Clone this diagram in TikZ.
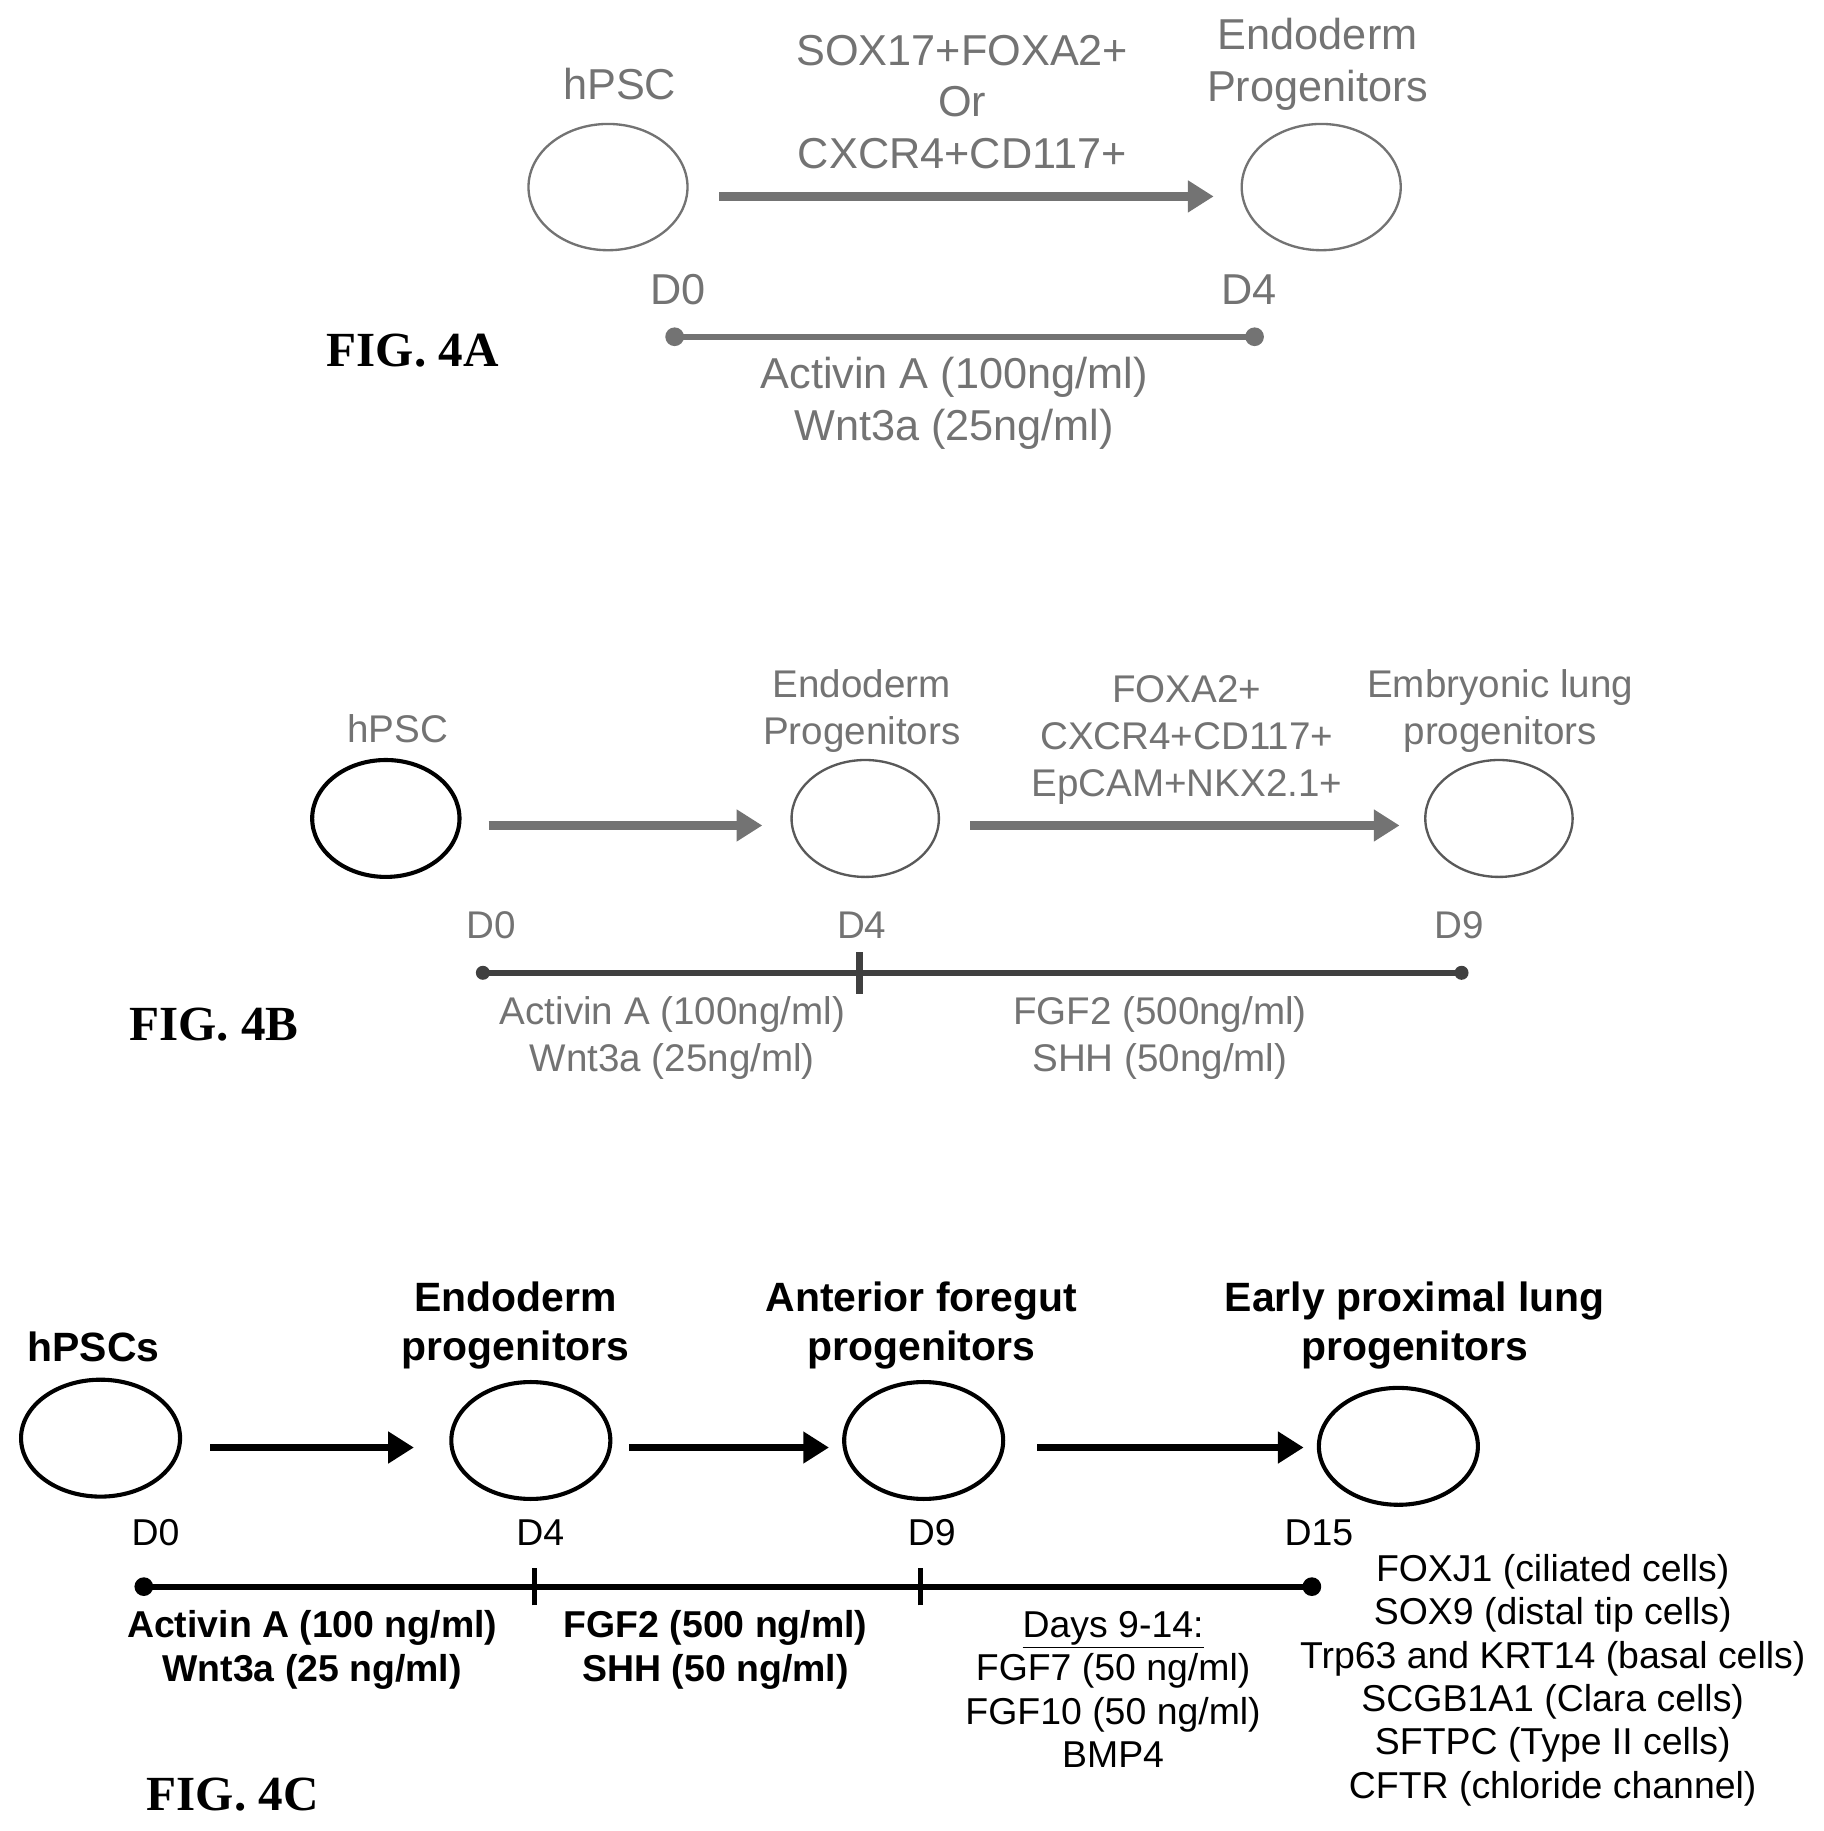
\documentclass[tikz,border=0pt]{standalone}
\usepackage{fontspec}
\setmainfont{Liberation Sans}
\newfontfamily\figfont{Liberation Serif}
\usetikzlibrary{arrows.meta,shapes.geometric}
\begin{document}
\begin{tikzpicture}[x=1pt,y=-1pt]
	\tikzset{cell/.style={draw, ellipse, minimum width=136pt, minimum height=108pt, line width=2pt},
		step arrow/.style={line width=8pt, -{Triangle[length=22pt,width=26pt]}},
		time line/.style={line width=5pt},
		lbl/.style={align=center, font=\fontsize{37}{44}\selectfont},
		lbl b/.style={align=center, font=\fontsize{33}{40}\selectfont},
		lbl c/.style={align=center, font=\bfseries\fontsize{35}{42}\selectfont},
		lbl d/.style={align=center, font=\fontsize{32}{37}\selectfont},
		fig/.style={font=\figfont\bfseries\fontsize{42}{44}\selectfont}}
	\useasboundingbox (0,0) rectangle (1560,1566);

	% FIG. 4A
	\begin{scope}[black!55]
	\node[cell, draw=black!55] (a0) at (520,160) {};
	\node[cell, draw=black!55] (a1) at (1130,160) {};
	\node[lbl] (a0l) at (530,72) {hPSC};
	\node[lbl] (a1l) at (1127,55) {Endoderm\\Progenitors};
	\node[lbl] (amk) at (823,87) {SOX17+FOXA2+\\Or\\CXCR4+CD117+};
	\coordinate (aa0) at (615,168);
	\coordinate (aa1) at (1038,168);
	\draw[step arrow] (aa0) -- (aa1);
	\node[lbl] (ad0) at (580,248) {D0};
	\node[lbl] (ad4) at (1068,248) {D4};
	\coordinate (at0) at (577,288);
	\coordinate (at1) at (1073,288);
	\draw[time line] (at0) -- (at1);
	\fill (at0) circle (8pt) (at1) circle (8pt);
	\node[lbl] (adr) at (816,345) {Activin A (100ng/ml)\\Wnt3a (25ng/ml)};
	\end{scope}
	\node[fig] (fa) at (353,300) {FIG. 4A};

	% FIG. 4B
	\node[cell, minimum width=126pt, minimum height=100pt, line width=3.5pt] (b0) at (330,700) {};
	\begin{scope}[black!55]
	\node[cell, draw=black!65, minimum width=126pt, minimum height=100pt] (b1) at (740,700) {};
	\node[cell, draw=black!65, minimum width=126pt, minimum height=100pt] (b2) at (1282,700) {};
	\node[lbl b] (b0l) at (340,623) {hPSC};
	\node[lbl b] (b1l) at (737,608) {Endoderm\\Progenitors};
	\node[lbl b] (b2l) at (1283,608) {Embryonic lung\\progenitors};
	\node[lbl b] (bmk) at (1015,633) {FOXA2+\\CXCR4+CD117+\\EpCAM+NKX2.1+};
	\coordinate (ba0) at (418,706);
	\coordinate (ba1) at (652,706);
	\coordinate (ba2) at (830,706);
	\coordinate (ba3) at (1197,706);
	\draw[step arrow, line width=7pt] (ba0) -- (ba1);
	\draw[step arrow, line width=7pt] (ba2) -- (ba3);
	\node[lbl b] (bd0) at (420,791) {D0};
	\node[lbl b] (bd4) at (737,791) {D4};
	\node[lbl b] (bd9) at (1248,791) {D9};
	\coordinate (bt0) at (413,832);
	\coordinate (bt1) at (735,832);
	\coordinate (bt2) at (1250,832);
	\draw[time line, black!75] (bt0) -- (bt2);
	\draw[line width=6pt, black!75] ([yshift=-18pt]bt1) -- ([yshift=18pt]bt1);
	\fill[black!75] (bt0) circle (6pt) (bt2) circle (6pt);
	\node[lbl b] (bdr0) at (575,888) {Activin A (100ng/ml)\\Wnt3a (25ng/ml)};
	\node[lbl b] (bdr1) at (992,888) {FGF2 (500ng/ml)\\SHH (50ng/ml)};
	\end{scope}
	\node[fig] (fb) at (183,876) {FIG. 4B};

	% FIG. 4C
	\node[cell, minimum height=100pt, line width=3.5pt] (c0) at (86,1230) {};
	\node[cell, minimum height=100pt, line width=3.5pt] (c1) at (454,1232) {};
	\node[cell, minimum height=100pt, line width=3.5pt] (c2) at (790,1232) {};
	\node[cell, minimum height=100pt, line width=3.5pt] (c3) at (1196,1237) {};
	\node[lbl c] (c0l) at (80,1152) {hPSCs};
	\node[lbl c] (c1l) at (441,1134) {Endoderm\\progenitors};
	\node[lbl c] (c2l) at (788,1134) {Anterior foregut\\progenitors};
	\node[lbl c] (c3l) at (1210,1134) {Early proximal lung\\progenitors};
	\coordinate (ca0) at (180,1238);
	\coordinate (ca1) at (354,1238);
	\coordinate (ca2) at (538,1238);
	\coordinate (ca3) at (709,1238);
	\coordinate (ca4) at (887,1238);
	\coordinate (ca5) at (1115,1238);
	\draw[step arrow, line width=6pt] (ca0) -- (ca1);
	\draw[step arrow, line width=6pt] (ca2) -- (ca3);
	\draw[step arrow, line width=6pt] (ca4) -- (ca5);
	\node[lbl d] (cd0) at (133,1311) {D0};
	\node[lbl d] (cd4) at (462,1311) {D4};
	\node[lbl d] (cd9) at (797,1311) {D9};
	\node[lbl d] (cd15) at (1128,1311) {D15};
	\coordinate (ct0) at (123,1357);
	\coordinate (ct1) at (457,1357);
	\coordinate (ct2) at (787,1357);
	\coordinate (ct3) at (1122,1357);
	\draw[time line] (ct0) -- (ct3);
	\foreach \t in {ct1,ct2}
		\draw[line width=4pt] ([yshift=-16pt]\t) -- ([yshift=16pt]\t);
	\fill (ct0) circle (8pt) (ct3) circle (8pt);
	\node[lbl c, font=\bfseries\fontsize{32}{38}\selectfont] (cdr0) at (267,1411) {Activin A (100 ng/ml)\\Wnt3a (25 ng/ml)};
	\node[lbl c, font=\bfseries\fontsize{32}{38}\selectfont] (cdr1) at (612,1411) {FGF2 (500 ng/ml)\\SHH (50 ng/ml)};
	\node[lbl d] (cdr2) at (952,1445) {\underline{Days 9-14:}\\FGF7 (50 ng/ml)\\FGF10 (50 ng/ml)\\BMP4};
	\node[lbl d] (cmk) at (1328,1437) {FOXJ1 (ciliated cells)\\SOX9 (distal tip cells)\\Trp63 and KRT14 (basal cells)\\SCGB1A1 (Clara cells)\\SFTPC (Type II cells)\\CFTR (chloride channel)};
	\node[fig] (fc) at (199,1535) {FIG. 4C};
\end{tikzpicture}
\end{document}
